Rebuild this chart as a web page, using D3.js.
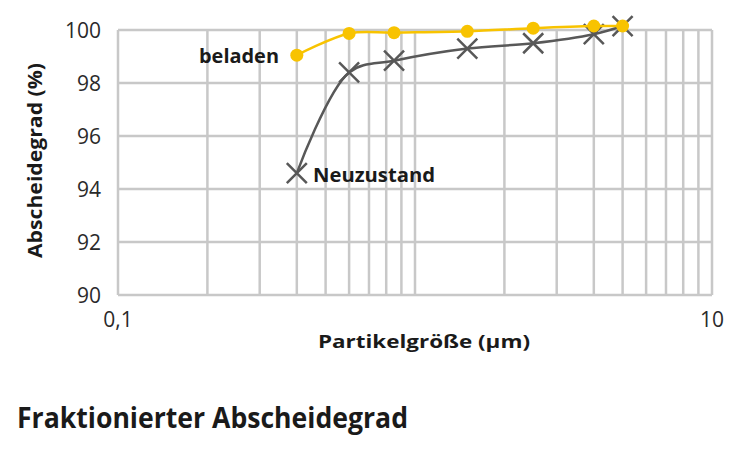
<!DOCTYPE html>
<html>
<head>
<meta charset="utf-8">
<script src="https://cdn.jsdelivr.net/npm/d3@7"></script>
<style>
  html, body { margin: 0; padding: 0; background: #fff; }
  svg { display: block; }
  text { font-family: "Open Sans", Lato, sans-serif; }
</style>
</head>
<body>
<svg id="chart" width="750" height="450"></svg>
<script>
// ---- data ----
const particleSize = [0.4, 0.6, 0.85, 1.5, 2.5, 4, 5];          // µm
const beladen     = [99.05, 99.87, 99.9, 99.95, 100.07, 100.15, 100.15];
const neuzustand  = [94.6, 98.4, 98.84, 99.3, 99.5, 99.84, 100.15];
const yTicks = [90, 92, 94, 96, 98, 100];
const xLabelTicks = [0.1, 10];
const xGridTicks = [0.2,0.3,0.4,0.5,0.6,0.7,0.8,0.9,1,2,3,4,5,6,7,8,9];
const seriesNames = ["beladen", "Neuzustand"];
const title = "Fraktionierter Abscheidegrad";
const xTitle = "Partikelgröße (µm)";
const yTitle = "Abscheidegrad (%)";

// ---- layout ----
const svg = d3.select("#chart");
const pLeft = 118, pRight = 712, pTop = 30, pBottom = 295;
const x = d3.scaleLog().domain([0.1, 10]).range([pLeft, pRight]);
const y = d3.scaleLinear().domain([90, 100]).range([pBottom, pTop]);

const gridColor = "#c8c8c8";
const yellow = "#f8c300";
const gray = "#585858";
const ink = "#1a1a1a";

// grid
const g = svg.append("g");
g.selectAll("line.h").data(yTicks).join("line")
  .attr("x1", pLeft).attr("x2", pRight)
  .attr("y1", d => y(d)).attr("y2", d => y(d))
  .attr("stroke", gridColor).attr("stroke-width", 2.5);
g.selectAll("line.v").data([0.1, ...xGridTicks, 10]).join("line")
  .attr("x1", d => x(d)).attr("x2", d => x(d))
  .attr("y1", pTop).attr("y2", pBottom)
  .attr("stroke", gridColor).attr("stroke-width", 2.5);

// y tick labels
svg.append("g").selectAll("text").data(yTicks).join("text")
  .attr("x", 101).attr("y", d => y(d))
  .attr("dy", "0.36em")
  .attr("text-anchor", "end")
  .attr("font-size", 21).attr("fill", "#2a2a2a")
  .text(d => d);

// x tick labels
svg.append("g").selectAll("text").data(xLabelTicks).join("text")
  .attr("x", d => x(d)).attr("y", 327)
  .attr("text-anchor", "middle")
  .attr("font-size", 21).attr("fill", "#2a2a2a")
  .text(d => String(d).replace(".", ","));

// axis titles
svg.append("text")
  .attr("x", 318).attr("y", 348)
  .attr("font-size", 18).attr("font-weight", 700).attr("fill", ink)
  .attr("textLength", 212).attr("lengthAdjust", "spacingAndGlyphs")
  .text(xTitle);
svg.append("text")
  .attr("transform", "translate(42,258) rotate(-90)")
  .attr("font-size", 19).attr("font-weight", 700).attr("fill", ink)
  .attr("textLength", 195).attr("lengthAdjust", "spacingAndGlyphs")
  .text(yTitle);

// lines
const curve = d3.curveCatmullRom.alpha(0.5);
const line = d3.line().curve(curve).x(d => x(d[0])).y(d => y(d[1]));
const nData = particleSize.map((p, i) => [p, neuzustand[i]]);
const bData = particleSize.map((p, i) => [p, beladen[i]]);

svg.append("path").datum(nData)
  .attr("d", line).attr("fill", "none")
  .attr("stroke", gray).attr("stroke-width", 2.5);
const s = 10;
svg.append("g").selectAll("path").data(nData).join("path")
  .attr("d", d => {
    const cx = x(d[0]), cy = y(d[1]);
    return `M${cx-s},${cy-s}L${cx+s},${cy+s}M${cx-s},${cy+s}L${cx+s},${cy-s}`;
  })
  .attr("stroke", gray).attr("stroke-width", 2.5).attr("fill", "none");

svg.append("path").datum(bData)
  .attr("d", line).attr("fill", "none")
  .attr("stroke", yellow).attr("stroke-width", 2.5);
svg.append("g").selectAll("circle").data(bData).join("circle")
  .attr("cx", d => x(d[0])).attr("cy", d => y(d[1])).attr("r", 6.5)
  .attr("fill", yellow);

// series labels
svg.append("text")
  .attr("x", 199).attr("y", 63)
  .attr("font-size", 20).attr("font-weight", 700).attr("fill", ink)
  .attr("textLength", 80).attr("lengthAdjust", "spacingAndGlyphs")
  .text(seriesNames[0]);
svg.append("text")
  .attr("x", 313).attr("y", 182)
  .attr("font-size", 20).attr("font-weight", 700).attr("fill", ink)
  .attr("textLength", 122).attr("lengthAdjust", "spacingAndGlyphs")
  .text(seriesNames[1]);

// title
svg.append("text")
  .attr("x", 17).attr("y", 428)
  .attr("font-size", 28).attr("font-weight", 700).attr("fill", ink)
  .attr("textLength", 391).attr("lengthAdjust", "spacingAndGlyphs")
  .text(title);
</script>
</body>
</html>
